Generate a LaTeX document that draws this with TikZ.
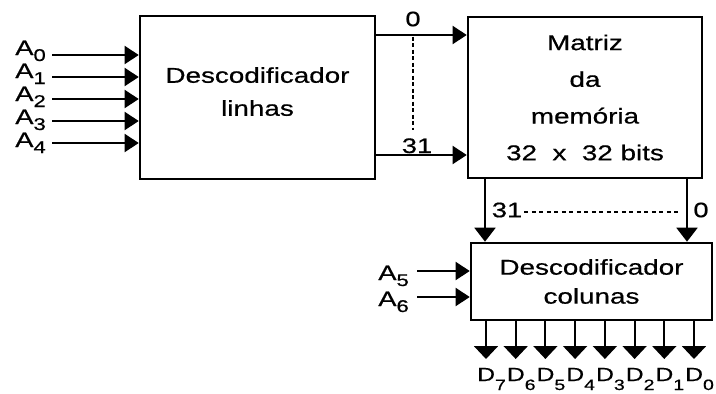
\documentclass[tikz,border=0pt]{standalone}
\usepackage{fontspec}
\setmainfont{Liberation Sans}[FakeStretch=1.3, FakeBold=0.6]
\usetikzlibrary{arrows.meta}
\newcommand{\subA}[1]{\raisebox{-6pt}{\fontsize{17}{17}\selectfont #1}}
\newcommand{\subD}[1]{\raisebox{-9pt}{\fontsize{15}{15}\selectfont #1}}

\begin{document}
\begin{tikzpicture}[x=1pt, y=-1pt,
		bloco/.style = {draw, line width=2.6pt, align=center, inner sep=0pt},
		seta/.style = {line width=2pt, -{Triangle[length=14pt, width=18pt]}},
		setad/.style = {line width=2pt, -{Triangle[length=14pt, width=21pt]}},
		setas/.style = {line width=2pt, -{Triangle[length=13pt, width=24pt]}},
		sinal/.style = {font=\fontsize{21}{21}\selectfont, inner sep=0pt}]
		\useasboundingbox (0,0) rectangle (716,394);

		% blocos
		\node[bloco, minimum width=235pt, minimum height=163pt, text depth=12pt,
			font=\fontsize{21.4}{33}\selectfont] (dlin) at (257.5,97.5) {Descodificador\\linhas};
		\node[bloco, minimum width=234pt, minimum height=161pt,
			font=\fontsize{21.4}{36.7}\selectfont] (mat) at (585,97.5) {Matriz\\da\\memória\\32~~x~~32 bits};
		\node[bloco, minimum width=241pt, minimum height=77pt,
			font=\fontsize{21.4}{29}\selectfont] (dcol) at (591.5,281.5) {Descodificador\\colunas};

		% enderecos das linhas
		\coordinate (ea0) at (52,55);
		\coordinate (ea1) at (52,77);
		\coordinate (ea2) at (52,99);
		\coordinate (ea3) at (52,121);
		\coordinate (ea4) at (52,143);
		\node[sinal, anchor=base east] (a0) at (46,55) {A\subA{0}};
		\node[sinal, anchor=base east] (a1) at (46,78) {A\subA{1}};
		\node[sinal, anchor=base east] (a2) at (46,101) {A\subA{2}};
		\node[sinal, anchor=base east] (a3) at (46,124) {A\subA{3}};
		\node[sinal, anchor=base east] (a4) at (46,147) {A\subA{4}};
		\draw[seta] (ea0) -- (ea0 -| dlin.west);
		\draw[seta] (ea1) -- (ea1 -| dlin.west);
		\draw[seta] (ea2) -- (ea2 -| dlin.west);
		\draw[seta] (ea3) -- (ea3 -| dlin.west);
		\draw[seta] (ea4) -- (ea4 -| dlin.west);

		% linhas 0 .. 31
		\coordinate (l0) at (420,35);
		\coordinate (l31) at (420,155);
		\draw[seta] (l0 -| dlin.east) -- (l0 -| mat.west);
		\draw[seta] (l31 -| dlin.east) -- (l31 -| mat.west);
		\node[sinal] (n0) at (413,19) {0};
		\node[sinal, anchor=base] (n31) at (417,153) {31};
		\draw[line width=2.2pt, dash pattern=on 4pt off 2.5pt, shorten <=10pt, shorten >=8pt]
			(n0.south) -- (n0.south |- n31.north);

		% colunas 31 .. 0
		\coordinate (c31) at (485,0);
		\coordinate (c0) at (687,0);
		\draw[setad] (c31 |- mat.south) -- (c31 |- dcol.north);
		\draw[setad] (c0 |- mat.south) -- (c0 |- dcol.north);
		\node[sinal] (m31) at (507,210) {31};
		\node[sinal] (m0) at (701,210) {0};
		\draw[line width=1.4pt, dash pattern=on 4pt off 3.5pt, shorten <=2pt, shorten >=12pt]
			([yshift=-2pt]m31.east) -- ([yshift=-2pt]m31.east -| m0.west);

		% enderecos das colunas
		\coordinate (ea5) at (417,271);
		\coordinate (ea6) at (417,297);
		\node[sinal, anchor=base east] (a5) at (409,280) {A\subA{5}};
		\node[sinal, anchor=base east] (a6) at (409,306) {A\subA{6}};
		\draw[seta] (ea5) -- (ea5 -| dcol.west);
		\draw[seta] (ea6) -- (ea6 -| dcol.west);

		% saidas de dados
		\coordinate (sd7) at (486,359);
		\coordinate (sd6) at (515.7,359);
		\coordinate (sd5) at (545.4,359);
		\coordinate (sd4) at (575.1,359);
		\coordinate (sd3) at (604.9,359);
		\coordinate (sd2) at (634.6,359);
		\coordinate (sd1) at (664.3,359);
		\coordinate (sd0) at (694,359);
		\draw[setas] (sd7 |- dcol.south) -- (sd7);
		\draw[setas] (sd6 |- dcol.south) -- (sd6);
		\draw[setas] (sd5 |- dcol.south) -- (sd5);
		\draw[setas] (sd4 |- dcol.south) -- (sd4);
		\draw[setas] (sd3 |- dcol.south) -- (sd3);
		\draw[setas] (sd2 |- dcol.south) -- (sd2);
		\draw[setas] (sd1 |- dcol.south) -- (sd1);
		\draw[setas] (sd0 |- dcol.south) -- (sd0);
		\node[sinal, anchor=base west, font=\fontsize{19}{19}\selectfont] (d7) at (477,381) {D\subD{7}};
		\node[sinal, anchor=base west, font=\fontsize{19}{19}\selectfont] (d6) at (506.7,381) {D\subD{6}};
		\node[sinal, anchor=base west, font=\fontsize{19}{19}\selectfont] (d5) at (536.4,381) {D\subD{5}};
		\node[sinal, anchor=base west, font=\fontsize{19}{19}\selectfont] (d4) at (566.1,381) {D\subD{4}};
		\node[sinal, anchor=base west, font=\fontsize{19}{19}\selectfont] (d3) at (595.9,381) {D\subD{3}};
		\node[sinal, anchor=base west, font=\fontsize{19}{19}\selectfont] (d2) at (625.6,381) {D\subD{2}};
		\node[sinal, anchor=base west, font=\fontsize{19}{19}\selectfont] (d1) at (655.3,381) {D\subD{1}};
		\node[sinal, anchor=base west, font=\fontsize{19}{19}\selectfont] (d0) at (685,381) {D\subD{0}};
	\end{tikzpicture}
\end{document}
